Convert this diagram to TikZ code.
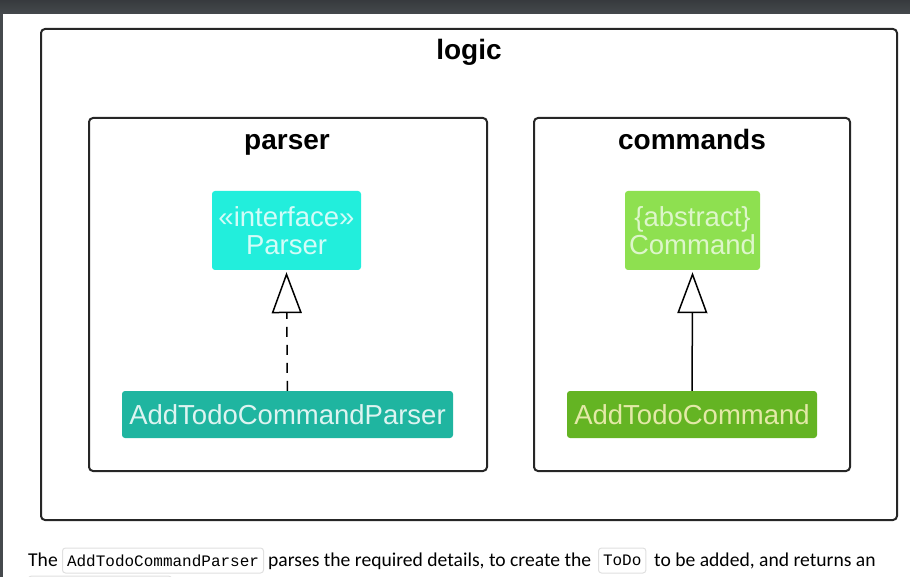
\documentclass[tikz,border=0pt]{standalone}
\usepackage{fontspec}
\setmainfont{Liberation Sans}
\newfontfamily\pagefont{Carlito}
\newfontfamily\snippetfont{Liberation Mono}
\usetikzlibrary{positioning,arrows.meta}

\begin{document}
\begin{tikzpicture}[
  x=1pt, y=-1pt,
  every node/.style={inner sep=0pt},
  pkg/.style={draw=black!85, line width=2pt, rounded corners=4pt},
  pkgname/.style={anchor=base, font=\fontsize{28}{30}\selectfont\bfseries},
  cls/.style={rounded corners=3pt, align=center, font=\fontsize{27.5}{28}\selectfont},
  realize/.style={line width=1.5pt, dash pattern=on 10pt off 8pt},
  extend/.style={line width=1.5pt},
  hollow/.style={-{Triangle[open, width=30pt, length=41pt, line width=1.5pt]}},
  prose/.style={anchor=base west, font=\pagefont\fontsize{19.6}{22}\selectfont},
  snippet/.style={draw=black!12, fill=white, rounded corners=3pt, line width=1pt,
    minimum height=25pt, inner xsep=4.5pt, font=\snippetfont\fontsize{16}{18}\selectfont}
]
\definecolor{ifacec}{HTML}{22EEDC}
\definecolor{parserc}{HTML}{1FB5A0}
\definecolor{abstractc}{HTML}{8EE050}
\definecolor{commandc}{HTML}{64B423}
\definecolor{barc}{HTML}{45494D}

\useasboundingbox (0,0) rectangle (910,577);

% page chrome
\shade[top color=barc!80!black, bottom color=barc] (0,0) rectangle (910,14);
\fill[barc] (0,14) rectangle (2.5,577);

% Packages (x = px, y = px from top)
\node[pkg, minimum width=856, minimum height=491] (logic)    at (469,274.5) {};
\node[pkg, minimum width=398, minimum height=353] (parser)   at (288,294.5) {};
\node[pkg, minimum width=316, minimum height=353] (commands) at (692,294.5) {};

\node[pkgname] (logic-name)    at (469,60)  {logic};
\node[pkgname] (parser-name)   at (287,150) {parser};
\node[pkgname] (commands-name) at (692,150) {commands};

% Classes
\node[cls, fill=ifacec, text=white!80!ifacec, minimum width=149, minimum height=79] (Parser)
  at (286.5,230.5) {«interface»\\Parser};
\node[cls, fill=parserc, text=white!85!parserc, minimum width=331, minimum height=47] (AddTodoCommandParser)
  at (287.5,414.5) {AddTodoCommandParser};
\node[cls, fill=abstractc, text=white!70!abstractc, minimum width=135, minimum height=79] (Command)
  at (692.5,230.5) {\{abstract\}\\Command};
\node[cls, fill=commandc, text=yellow!25!white!80!commandc, minimum width=250, minimum height=47] (AddTodoCommand)
  at (692,414.5) {AddTodoCommand};

% Arrows
\draw[realize, hollow] (AddTodoCommandParser) -- ([yshift=-2]Parser.south);
\draw[extend, hollow] (AddTodoCommand) -- ([yshift=-2]Command.south);

% Text below
\node[prose] (the) at (28,566) {The};
\node[snippet, anchor=west] (code-parser) at (62,560.5) {AddTodoCommandParser};
\node[prose] (parses) at (268,566) {parses the required details, to create the};
\node[snippet, anchor=west] (code-todo) at (598,560.5) {ToDo};
\node[prose] (returns) at (654,566) {to be added, and returns an};
\node[snippet, anchor=north west, minimum width=143, minimum height=20] (code-next) at (28,575.5) {};
\end{tikzpicture}
\end{document}
